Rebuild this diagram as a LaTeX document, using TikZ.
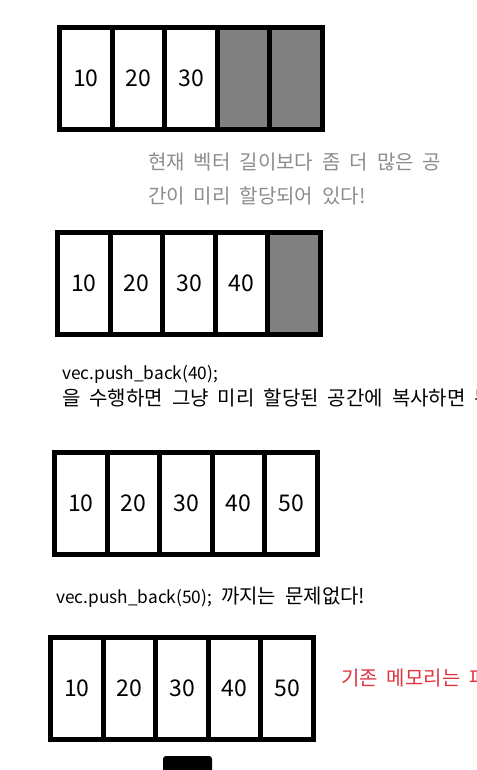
\documentclass[tikz,border=0pt]{standalone}
\usepackage{fontspec}
\setmainfont{Noto Sans CJK KR}
\usetikzlibrary{positioning}
\definecolor{SlotGray}{HTML}{808080}
\definecolor{NoteGray}{HTML}{8C8C8C}
\definecolor{WarnRed}{HTML}{E0353F}

% code text is a little narrower than the hangul around it
\newcommand{\codetext}[1]{{\fontsize{17.3}{17.3}\selectfont #1}}
\newcommand{\notefont}{\fontsize{20}{20}\selectfont\spaceskip=0.45em\relax}

\tikzset{
  cell/.style={draw, line width=5pt, fill=white, minimum width=52.6pt,
    minimum height=102pt, inner sep=0pt, font=\fontsize{23}{23}\selectfont},
  spare/.style={cell, fill=SlotGray},
  note/.style={anchor=base west, inner sep=0pt, font=\notefont},
}

\begin{document}
\begin{tikzpicture}[x=1pt, y=-1pt]
  \useasboundingbox (0,0) rectangle (476,770);
  \clip (0,0) rectangle (476,770);

  % 1: size 3, capacity 5
  \foreach \v [count=\i] in {10,20,30}
    \node[cell] (a\i) at ({59.5+26.3+(\i-1)*52.6},78.5) {\v};
  \foreach \i in {4,5}
    \node[spare] (a\i) at ({59.5+26.3+(\i-1)*52.6},78.5) {};

  \node[note, text=NoteGray] (spare1) at (148,170) {현재 벡터 길이보다 좀 더 많은 공};
  \node[note, text=NoteGray] (spare2) at (148,203) {간이 미리 할당되어 있다!};

  % 2: push_back(40)
  \foreach \v [count=\i] in {10,20,30,40}
    \node[cell] (b\i) at ({57.5+26.3+(\i-1)*52.6},283.3) {\v};
  \node[spare] (b5) at ({57.5+26.3+4*52.6},283.3) {};

  \node[note] (push40) at (62,379) {\codetext{vec.push\_back(40);}};
  \node[note] (copy40) at (62,405) {을 수행하면 그냥 미리 할당된 공간에 복사하면 된};

  % 3: push_back(50)
  \foreach \v [count=\i] in {10,20,30,40,50}
    \node[cell] (c\i) at ({54.5+26.3+(\i-1)*52.6},503.5) {\v};

  \node[note] (push50) at (56,603) {\codetext{vec.push\_back(50);} 까지는 문제없다!};

  % 4: full
  \foreach \v [count=\i] in {10,20,30,40,50}
    \node[cell] (d\i) at ({50.5+26.3+(\i-1)*52.6},688.5) {\v};

  \node[note, text=WarnRed] (oldmem) at (341,685) {기존 메모리는 파};

  % new block
  \fill[rounded corners=3pt] (163,756) rectangle (212,785);
\end{tikzpicture}
\end{document}
